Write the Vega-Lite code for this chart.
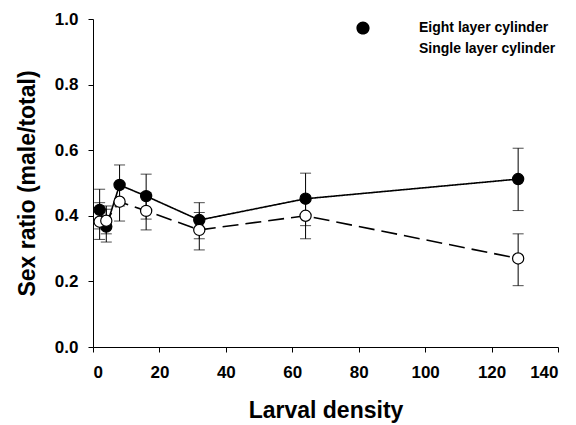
{
  "$schema": "https://vega.github.io/schema/vega-lite/v6.json",
  "width": 465,
  "height": 328,
  "autosize": {"type": "none"},
  "padding": {"left": 93, "top": 19, "right": 18, "bottom": 78},
  "background": "white",
  "config": {
    "view": {"stroke": null},
    "font": "Liberation Sans",
    "axis": {
      "grid": false,
      "domainColor": "black",
      "domainWidth": 1,
      "tickColor": "black",
      "tickSize": 5,
      "labelFont": "Liberation Sans",
      "labelFontWeight": "bold",
      "labelFontSize": 17,
      "labelColor": "black",
      "titleFont": "Liberation Sans",
      "titleFontWeight": "bold",
      "titleFontSize": 23,
      "titleColor": "black"
    }
  },
  "data": {
    "values": [
      {"density": 2, "ratio": 0.418, "lower": 0.36, "upper": 0.481, "series": "Eight layer cylinder"},
      {"density": 4, "ratio": 0.367, "lower": 0.32, "upper": 0.42, "series": "Eight layer cylinder"},
      {"density": 8, "ratio": 0.494, "lower": 0.43, "upper": 0.555, "series": "Eight layer cylinder"},
      {"density": 16, "ratio": 0.46, "lower": 0.39, "upper": 0.527, "series": "Eight layer cylinder"},
      {"density": 32, "ratio": 0.387, "lower": 0.33, "upper": 0.44, "series": "Eight layer cylinder"},
      {"density": 64, "ratio": 0.452, "lower": 0.37, "upper": 0.53, "series": "Eight layer cylinder"},
      {"density": 128, "ratio": 0.512, "lower": 0.416, "upper": 0.606, "series": "Eight layer cylinder"},
      {"density": 2, "ratio": 0.382, "lower": 0.328, "upper": 0.44, "series": "Single layer cylinder"},
      {"density": 4, "ratio": 0.385, "lower": 0.345, "upper": 0.43, "series": "Single layer cylinder"},
      {"density": 8, "ratio": 0.443, "lower": 0.384, "upper": 0.5, "series": "Single layer cylinder"},
      {"density": 16, "ratio": 0.415, "lower": 0.357, "upper": 0.47, "series": "Single layer cylinder"},
      {"density": 32, "ratio": 0.357, "lower": 0.296, "upper": 0.41, "series": "Single layer cylinder"},
      {"density": 64, "ratio": 0.4, "lower": 0.33, "upper": 0.46, "series": "Single layer cylinder"},
      {"density": 128, "ratio": 0.27, "lower": 0.187, "upper": 0.345, "series": "Single layer cylinder"}
    ]
  },
  "encoding": {
    "x": {
      "field": "density",
      "type": "quantitative",
      "scale": {"domain": [0, 140], "nice": false},
      "axis": {"values": [0, 20, 40, 60, 80, 100, 120, 140], "title": "Larval density", "labelPadding": 12, "titlePadding": 19}
    }
  },
  "layer": [
    {
      "mark": {"type": "errorbar", "ticks": {"size": 11, "color": "black", "thickness": 1}, "rule": {"color": "black", "strokeWidth": 1}},
      "encoding": {
        "y": {"field": "lower", "type": "quantitative", "title": "Sex ratio (male/total)"},
        "y2": {"field": "upper"}
      }
    },
    {
      "mark": {"type": "line", "color": "black", "strokeWidth": 1.6},
      "encoding": {
        "y": {
          "field": "ratio",
          "type": "quantitative",
          "scale": {"domain": [0, 1], "nice": false},
          "axis": {"values": [0, 0.2, 0.4, 0.6, 0.8, 1.0], "format": ".1f", "title": "Sex ratio (male/total)", "labelPadding": 10, "titlePadding": 15}
        },
        "strokeDash": {
          "field": "series",
          "type": "nominal",
          "scale": {"domain": ["Eight layer cylinder", "Single layer cylinder"], "range": [[1, 0], [16, 7]]},
          "legend": {
            "title": null,
            "orient": "none",
            "legendX": 259,
            "legendY": -2,
            "symbolType": "M-3.6,0L-0.66,0M0.66,0L3.7,0M0.66,0C0.66,0.3645,0.3645,0.66,0,0.66C-0.3645,0.66,-0.66,0.3645,-0.66,0C-0.66,-0.3645,-0.3645,-0.66,0,-0.66C0.3645,-0.66,0.66,-0.3645,0.66,0Z",
            "symbolSize": 400,
            "symbolStrokeWidth": 1.5,
            "symbolStrokeColor": "black",
            "symbolFillColor": "white",
            "labelFont": "Liberation Sans",
            "labelFontSize": 14,
            "labelFontWeight": "bold",
            "labelColor": "black",
            "labelOffset": 45,
            "rowPadding": 0,
            "encode": {
              "symbols": {
                "update": {
                  "fill": {"signal": "datum.value === 'Eight layer cylinder' ? 'black' : 'white'"}
                }
              }
            }
          }
        }
      }
    },
    {
      "transform": [{"filter": "datum.series === 'Eight layer cylinder'"}],
      "mark": {"type": "point", "shape": "circle", "filled": true, "fill": "black", "size": 125, "stroke": "black", "strokeWidth": 1.2, "opacity": 1},
      "encoding": {"y": {"field": "ratio", "type": "quantitative"}}
    },
    {
      "transform": [{"filter": "datum.series === 'Single layer cylinder'"}],
      "mark": {"type": "point", "shape": "circle", "filled": true, "fill": "white", "size": 125, "stroke": "black", "strokeWidth": 1.2, "opacity": 1},
      "encoding": {"y": {"field": "ratio", "type": "quantitative"}}
    }
  ]
}
